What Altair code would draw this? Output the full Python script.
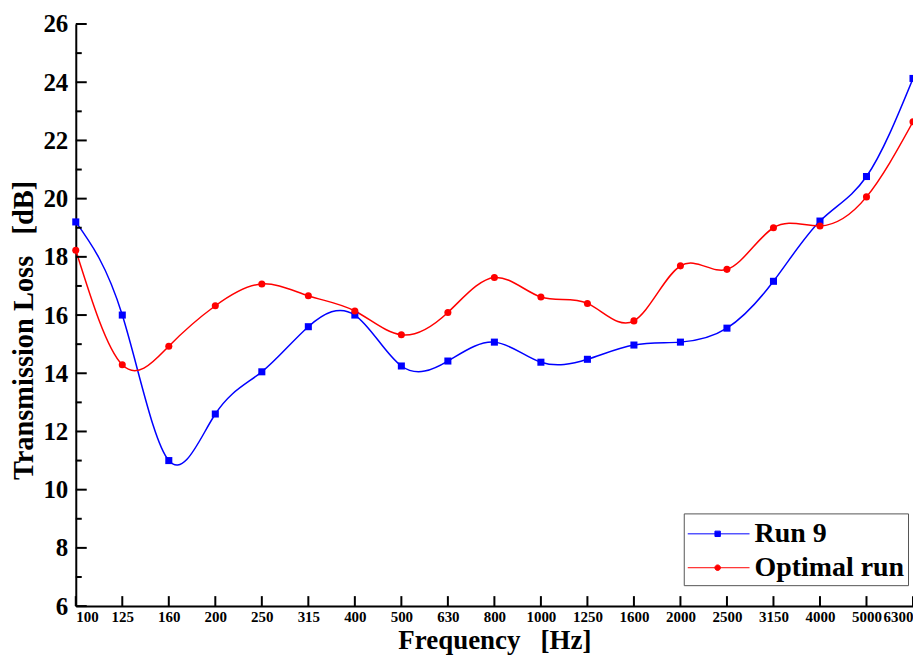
import altair as alt
import pandas as pd

freqs = ["100", "125", "160", "200", "250", "315", "400", "500", "630", "800",
         "1000", "1250", "1600", "2000", "2500", "3150", "4000", "5000", "6300"]
run9 = [19.2, 16.0, 11.0, 12.6, 14.05, 15.6, 16.0, 14.25, 14.42, 15.07,
        14.38, 14.48, 14.97, 15.07, 15.55, 17.16, 19.23, 20.76, 24.13]
optimal = [18.23, 14.29, 14.93, 16.32, 17.07, 16.66, 16.14, 15.32, 16.09, 17.29,
           16.62, 16.4, 15.8, 17.69, 17.57, 19.0, 19.06, 20.06, 22.64]
series_names = ["Run 9", "Optimal run"]
series_colors = ["#0000ff", "#ff0000"]
y_major = [6, 8, 10, 12, 14, 16, 18, 20, 22, 24, 26]
y_minor = [7, 9, 11, 13, 15, 17, 19, 21, 23, 25]

rows = []
for i, f in enumerate(freqs):
    rows.append({"freq": f, "tl": run9[i], "series": "Run 9", "order": 0})
for i, f in enumerate(freqs):
    rows.append({"freq": f, "tl": optimal[i], "series": "Optimal run", "order": 1})
df = pd.DataFrame(rows)

FONT = "Liberation Serif"
W, H = 840, 584

xscale = alt.Scale(type="point", domain=freqs, padding=0)
yscale = alt.Scale(domain=[6, 26], nice=False, zero=False)
cscale = alt.Scale(domain=series_names, range=series_colors)

x_enc = alt.X("freq:N", sort=freqs, scale=xscale,
              axis=alt.Axis(title="Frequency\u00a0\u00a0\u00a0[Hz]", labelAngle=0, ticks=False,
                            domainWidth=2, domainColor="black",
                            labelFont=FONT, labelFontSize=15, labelFontWeight="bold",
                            labelColor="black", labelPadding=3, labelFlush=True,
                            titleFont=FONT, titleFontSize=27, titleFontWeight="bold",
                            titleColor="black", titleBaseline="alphabetic",
                            titleY=43, grid=False))
y_enc = alt.Y("tl:Q", scale=yscale,
              axis=alt.Axis(title="Transmission Loss\u00a0\u00a0\u00a0[dB]", values=y_major, ticks=False,
                            domainWidth=2, domainColor="black",
                            labelFont=FONT, labelFontSize=25, labelFontWeight="bold",
                            labelColor="black", labelPadding=8,
                            titleFont=FONT, titleFontSize=28.5, titleFontWeight="bold",
                            titleColor="black", titleBaseline="alphabetic",
                            titleAngle=-90, titleX=-43, titleY=307, titleAlign="center",
                            grid=False))

base = alt.Chart(df)

lines = base.mark_line(interpolate="natural", strokeWidth=1.5).encode(
    x=x_enc, y=y_enc,
    color=alt.Color("series:N", scale=cscale, legend=None),
    detail="series:N",
    order="order:Q",
)

points = base.mark_point(filled=True, size=50, opacity=1).encode(
    x=x_enc, y=y_enc,
    color=alt.Color("series:N", scale=cscale, legend=None),
    shape=alt.Shape("series:N", scale=alt.Scale(domain=series_names, range=["square", "circle"]),
                    legend=None),
    order="order:Q",
)

# legend symbols: line + marker as custom paths (scale unit = sqrt(size)/2)
S = 34
k = S / 2.0
lx0 = (-16.5) / k
lx1 = (45.5) / k
mc = (13.5) / k
h = 2.7 / k
sq_path = (f"M{lx0:.3f},0H{lx1:.3f}"
           f"M{mc - h:.3f},{-h:.3f}H{mc + h:.3f}V{h:.3f}H{mc - h:.3f}Z")
r = 2.8 / k
ci_path = (f"M{lx0:.3f},0H{lx1:.3f}"
           f"M{mc - r:.3f},0A{r:.3f},{r:.3f} 0 1,0 {mc + r:.3f},0"
           f"A{r:.3f},{r:.3f} 0 1,0 {mc - r:.3f},0Z")

legend_layer = base.transform_filter("false").mark_point(
    filled=True, size=S * S, strokeWidth=1, opacity=1
).encode(
    x=x_enc, y=y_enc,
    fill=alt.Fill("series:N", scale=alt.Scale(domain=series_names, range=series_colors),
                  legend=alt.Legend(title=None)),
    stroke=alt.Stroke("series:N", scale=alt.Scale(domain=series_names, range=series_colors),
                      legend=alt.Legend(title=None)),
    shape=alt.Shape("series:N", scale=alt.Scale(domain=series_names, range=[sq_path, ci_path]),
                    legend=alt.Legend(title=None)),
)

ymaj_df = pd.DataFrame({"tl": y_major})
ymin_df = pd.DataFrame({"tl": y_minor})
x_df = pd.DataFrame({"freq": freqs})

ymaj_ticks = alt.Chart(ymaj_df).mark_rule(color="black", strokeWidth=2).encode(
    y=y_enc, x=alt.value(0), x2=alt.value(11),
)
ymin_ticks = alt.Chart(ymin_df).mark_rule(color="black", strokeWidth=2).encode(
    y=y_enc, x=alt.value(0), x2=alt.value(6),
)
x_ticks = alt.Chart(x_df).mark_rule(color="black", strokeWidth=2).encode(
    x=x_enc, y=alt.value(H), y2=alt.value(H - 10),
)

chart = alt.layer(
    lines, points, ymaj_ticks, ymin_ticks, x_ticks, legend_layer
).resolve_scale(
    shape="independent", fill="independent", stroke="independent"
).properties(
    width=W, height=H,
    autosize=alt.AutoSizeParams(type="none"),
    padding={"left": 68, "top": 15, "right": 0, "bottom": 50},
    background="white",
).configure_view(
    stroke=None
).configure_legend(
    orient="none", legendX=610, legendY=491,
    padding=3, strokeColor="#555555", fillColor="white",
    labelFont=FONT, labelFontSize=28, labelFontWeight="bold", labelColor="black",
    labelOffset=33, rowPadding=2, symbolStrokeWidth=1, symbolOpacity=1, cornerRadius=0,
    symbolSize=S * S, labelLimit=400,
)

chart.save("out.html", embed_options={"renderer": "svg", "actions": False})
